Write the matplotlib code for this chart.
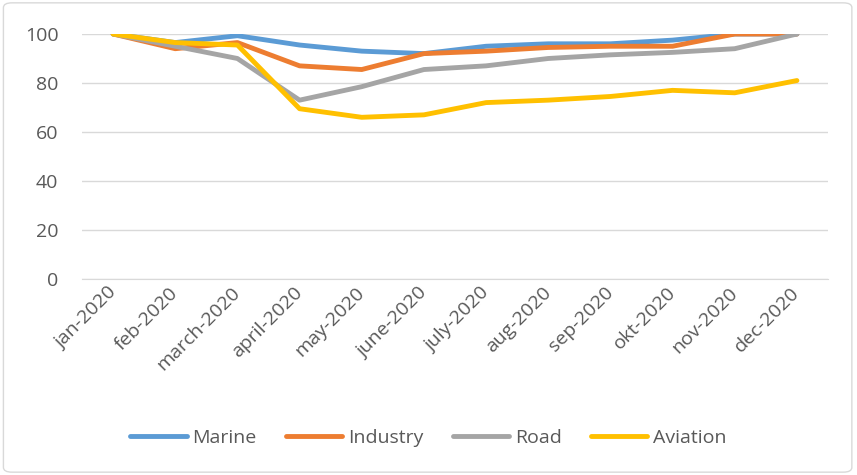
import matplotlib.pyplot as plt
import matplotlib.transforms as mtransforms
from matplotlib.patches import FancyBboxPatch

months = ["jan-2020", "feb-2020", "march-2020", "april-2020", "may-2020", "june-2020",
          "july-2020", "aug-2020", "sep-2020", "okt-2020", "nov-2020", "dec-2020"]
marine = [100, 96.5, 99.3, 95.5, 93, 92, 95, 96, 96, 97.5, 100, 100]
industry = [100, 94, 96.5, 87, 85.5, 92, 93, 94.5, 95, 95, 100, 100]
road = [100, 95, 90, 73, 78.5, 85.5, 87, 90, 91.5, 92.5, 94, 100]
aviation = [100, 96.5, 95.5, 69.5, 66, 67, 72, 73, 74.5, 77, 76, 81]

plt.rcParams['font.family'] = ['Open Sans', 'DejaVu Sans']

fig = plt.figure(figsize=(8.57, 4.75), dpi=100)
ax = fig.add_axes([82 / 857, 1 - 279 / 475, (828 - 82) / 857, (279 - 34) / 475])

x = list(range(len(months)))
ax.plot(x, marine, color="#5B9BD5", lw=3.5, label="Marine", solid_capstyle="round")
ax.plot(x, industry, color="#ED7D31", lw=3.5, label="Industry", solid_capstyle="round")
ax.plot(x, road, color="#A5A5A5", lw=3.5, label="Road", solid_capstyle="round")
ax.plot(x, aviation, color="#FFC000", lw=3.5, label="Aviation", solid_capstyle="round")

ax.set_xlim(-0.5, len(months) - 0.5)
ax.set_ylim(0, 100)
ax.set_yticks(range(0, 101, 20))
ax.set_xticks(x)
ax.set_xticklabels(months, rotation=45, ha="right", va="center", rotation_mode="anchor")
shift = mtransforms.ScaledTranslation(11 / 100, 0, fig.dpi_scale_trans)
for lbl in ax.get_xticklabels():
    lbl.set_transform(lbl.get_transform() + shift)
ax.tick_params(axis="both", length=0, labelsize=14, colors="#595959")
ax.tick_params(axis="x", pad=8)
ax.tick_params(axis="y", pad=17)
ax.grid(axis="y", color="#D9D9D9", lw=1)
ax.set_axisbelow(True)
for s in ["top", "right", "left"]:
    ax.spines[s].set_visible(False)
ax.spines["bottom"].set_color("#D9D9D9")

fig.legend(loc="center", bbox_to_anchor=(0.5, 1 - 438 / 475), ncol=4, frameon=False,
           fontsize=14, handlelength=2.9, columnspacing=1.5, handletextpad=0.3,
           labelcolor="#595959")

fig.patches.append(FancyBboxPatch((0.004, 0.006), 0.99, 0.988, boxstyle="round,pad=0,rounding_size=0.01",
                                  transform=fig.transFigure, fill=False, ec="#D9D9D9", lw=1))

fig.savefig("out.png", dpi=100)
